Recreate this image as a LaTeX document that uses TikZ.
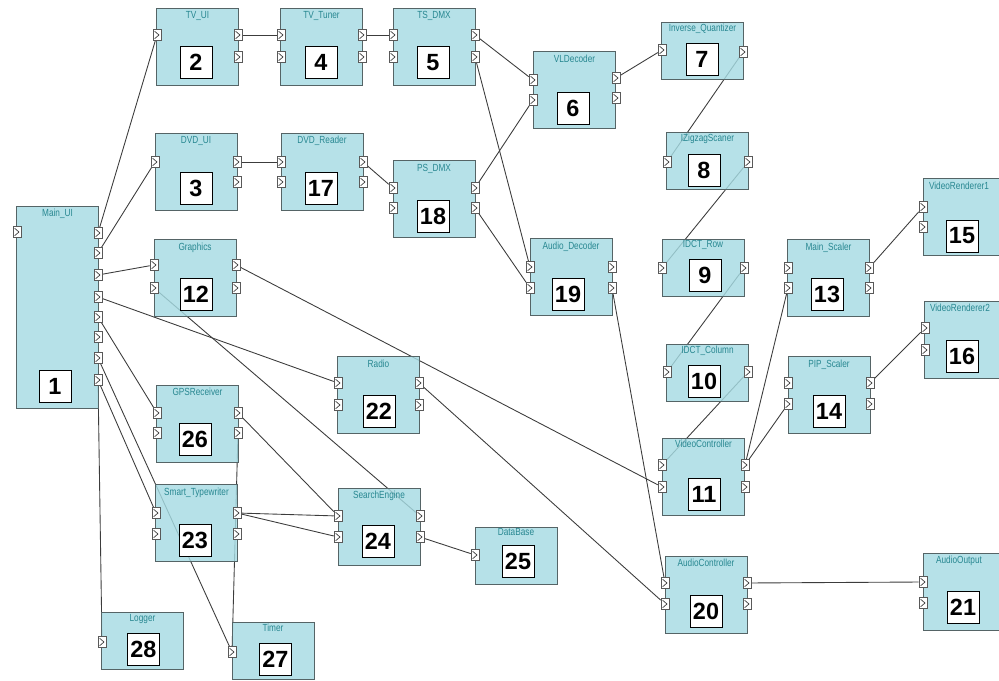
\documentclass[tikz,border=0pt]{standalone}
\usepackage{fontspec}
\setmainfont{Liberation Sans}
\newfontfamily\capfont[FakeStretch=0.8]{Liberation Sans}
\usetikzlibrary{backgrounds}
\definecolor{blockfill}{RGB}{166,219,227}
\definecolor{blockline}{RGB}{85,100,102}
\definecolor{captext}{RGB}{40,135,145}
\definecolor{wiregray}{RGB}{60,60,60}
\tikzstyle{block} = [rectangle, minimum width=24.6mm, draw=blockline, line width=0.75pt, fill=blockfill, fill opacity=0.82]
\tikzstyle{tallblock} = [block, minimum height=23.1mm]
\tikzstyle{shortblock} = [block, minimum height=17.1mm]
\tikzstyle{caption} = [anchor=north, inner sep=3pt, font=\capfont\fontsize{8.8}{9}\selectfont, text=captext]
\tikzstyle{numbox} = [rectangle, draw=black, line width=0.8pt, fill=white, minimum size=9.6mm, inner sep=0pt, font=\bfseries\fontsize{20}{20}\selectfont]
\tikzstyle{port} = [rectangle, draw=black!65, fill=white, line width=0.45pt, minimum width=2.4mm, minimum height=3.2mm, inner sep=0pt, path picture={\draw[black!80, line width=0.55pt] ([xshift=0.5mm,yshift=-0.5mm]path picture bounding box.north west) -- ([xshift=-0.6mm]path picture bounding box.east) -- ([xshift=0.5mm,yshift=0.5mm]path picture bounding box.south west);}]
\tikzstyle{wire} = [draw=wiregray, line width=0.75pt]

\begin{document}
\begin{tikzpicture}[x=0.3mm, y=-0.3mm]
			\useasboundingbox (0,0) rectangle (999,681);

			\node (mainui) [block, minimum height=60.6mm, label={[caption]north:Main\_UI}] at (57.5,307) {};
			\node (mainui-n) [numbox] at (55,386) {1};
			\node (mainui-i1) [port] at (17,232) {};
			\node (mainui-o1) [port] at (98,233) {};
			\node (mainui-o2) [port] at (98,253) {};
			\node (mainui-o3) [port] at (98,275) {};
			\node (mainui-o4) [port] at (98,297) {};
			\node (mainui-o5) [port] at (98,317) {};
			\node (mainui-o6) [port] at (98,337) {};
			\node (mainui-o7) [port] at (98,358) {};
			\node (mainui-o8) [port] at (98,380) {};

			\node (tvui) [tallblock, label={[caption]north:TV\_UI}] at (197.5,46.5) {};
			\node (tvui-n) [numbox] at (196,62.5) {2};
			\node (tvui-i1) [port] at (157,35) {};
			\node (tvui-o1) [port] at (238,35) {};
			\node (tvui-o2) [port] at (238,57) {};

			\node (dvdui) [tallblock, label={[caption]north:DVD\_UI}] at (196,171.5) {};
			\node (dvdui-n) [numbox] at (196,188) {3};
			\node (dvdui-i1) [port] at (155,162) {};
			\node (dvdui-o1) [port] at (237,162) {};
			\node (dvdui-o2) [port] at (237,182) {};

			\node (tvtuner) [tallblock, label={[caption]north:TV\_Tuner}] at (321.5,46.5) {};
			\node (tvtuner-n) [numbox] at (321,62.5) {4};
			\node (tvtuner-i1) [port] at (281,35) {};
			\node (tvtuner-i2) [port] at (281,57) {};
			\node (tvtuner-o1) [port] at (362,35) {};
			\node (tvtuner-o2) [port] at (362,57) {};

			\node (tsdmx) [tallblock, label={[caption]north:TS\_DMX}] at (434,46.5) {};
			\node (tsdmx-n) [numbox] at (433,62.5) {5};
			\node (tsdmx-i1) [port] at (393,35) {};
			\node (tsdmx-i2) [port] at (393,57) {};
			\node (tsdmx-o1) [port] at (475,35) {};
			\node (tsdmx-o2) [port] at (475,57) {};

			\node (vldecoder) [tallblock, label={[caption]north:VLDecoder}] at (574.5,90) {};
			\node (vldecoder-n) [numbox] at (573,108) {6};
			\node (vldecoder-i1) [port] at (533,80) {};
			\node (vldecoder-i2) [port] at (533,100) {};
			\node (vldecoder-o1) [port] at (616,78) {};
			\node (vldecoder-o2) [port] at (616,98) {};

			\node (invquant) [shortblock, label={[caption, inner sep=1.5pt]north:Inverse\_Quantizer}] at (702.5,51) {};
			\node (invquant-n) [numbox] at (702,59) {7};
			\node (invquant-i1) [port] at (662,50) {};
			\node (invquant-o1) [port] at (743,52) {};

			\node (izigzag) [shortblock, label={[caption, inner sep=1.5pt]north:IZigzagScaner}] at (707.5,161) {};
			\node (izigzag-n) [numbox] at (704,170) {8};
			\node (izigzag-i1) [port] at (667,162) {};
			\node (izigzag-o1) [port] at (748,162) {};

			\node (idctrow) [shortblock, label={[caption, inner sep=1.5pt]north:IDCT\_Row}] at (703,267.5) {};
			\node (idctrow-n) [numbox] at (705,275) {9};
			\node (idctrow-i1) [port] at (662,268) {};
			\node (idctrow-o1) [port] at (744,268) {};

			\node (idctcol) [shortblock, label={[caption, inner sep=1.5pt]north:IDCT\_Column}] at (707.5,372.5) {};
			\node (idctcol-n) [numbox] at (704,381) {10};
			\node (idctcol-i1) [port] at (667,372) {};
			\node (idctcol-o1) [port] at (748,372) {};

			\node (videoctrl) [tallblock, label={[caption, inner sep=1.5pt]north:VideoController}] at (703.5,476.5) {};
			\node (videoctrl-n) [numbox] at (704,494) {11};
			\node (videoctrl-i1) [port] at (662,465) {};
			\node (videoctrl-i2) [port] at (662,487) {};
			\node (videoctrl-o1) [port] at (745,465) {};
			\node (videoctrl-o2) [port] at (745,487) {};

			\node (graphics) [tallblock, label={[caption]north:Graphics}] at (195,278) {};
			\node (graphics-n) [numbox] at (196,294) {12};
			\node (graphics-i1) [port] at (154,265) {};
			\node (graphics-i2) [port] at (154,288) {};
			\node (graphics-o1) [port] at (236,265) {};
			\node (graphics-o2) [port] at (236,288) {};

			\node (mainscaler) [tallblock, label={[caption]north:Main\_Scaler}] at (828.5,278) {};
			\node (mainscaler-n) [numbox] at (827,294) {13};
			\node (mainscaler-i1) [port] at (788,268) {};
			\node (mainscaler-i2) [port] at (788,288) {};
			\node (mainscaler-o1) [port] at (869,268) {};
			\node (mainscaler-o2) [port] at (869,288) {};

			\node (pipscaler) [tallblock, label={[caption]north:PIP\_Scaler}] at (829,395) {};
			\node (pipscaler-n) [numbox] at (829,411) {14};
			\node (pipscaler-i1) [port] at (788,383) {};
			\node (pipscaler-i2) [port] at (788,404) {};
			\node (pipscaler-o1) [port] at (870,383) {};
			\node (pipscaler-o2) [port] at (870,404) {};

			\node (vidrend1) [tallblock, label={[caption, xshift=-1.5mm]north:VideoRenderer1}] at (964,217) {};
			\node (vidrend1-n) [numbox] at (962,236) {15};
			\node (vidrend1-i1) [port] at (923,207) {};
			\node (vidrend1-i2) [port] at (923,227) {};

			\node (vidrend2) [tallblock, label={[caption, xshift=-1.5mm]north:VideoRenderer2}] at (965,339.5) {};
			\node (vidrend2-n) [numbox] at (962,356) {16};
			\node (vidrend2-i1) [port] at (925,328) {};
			\node (vidrend2-i2) [port] at (925,350) {};

			\node (dvdreader) [tallblock, label={[caption]north:DVD\_Reader}] at (322,171.5) {};
			\node (dvdreader-n) [numbox] at (321,188) {17};
			\node (dvdreader-i1) [port] at (281,162) {};
			\node (dvdreader-i2) [port] at (281,182) {};
			\node (dvdreader-o1) [port] at (363,162) {};
			\node (dvdreader-o2) [port] at (363,182) {};

			\node (psdmx) [tallblock, label={[caption]north:PS\_DMX}] at (434,199) {};
			\node (psdmx-n) [numbox] at (433,216) {18};
			\node (psdmx-i1) [port] at (393,188) {};
			\node (psdmx-i2) [port] at (393,208) {};
			\node (psdmx-o1) [port] at (475,188) {};
			\node (psdmx-o2) [port] at (475,208) {};

			\node (audiodec) [tallblock, label={[caption]north:Audio\_Decoder}] at (571,277) {};
			\node (audiodec-n) [numbox] at (568,294) {19};
			\node (audiodec-i1) [port] at (530,267) {};
			\node (audiodec-i2) [port] at (530,288) {};
			\node (audiodec-o1) [port] at (612,267) {};
			\node (audiodec-o2) [port] at (612,288) {};

			\node (audioctrl) [tallblock, label={[caption]north:AudioController}] at (706,594.5) {};
			\node (audioctrl-n) [numbox] at (706,611) {20};
			\node (audioctrl-i1) [port] at (665,583) {};
			\node (audioctrl-i2) [port] at (665,604) {};
			\node (audioctrl-o1) [port] at (747,583) {};
			\node (audioctrl-o2) [port] at (747,604) {};

			\node (audioout) [tallblock, label={[caption, xshift=-1.5mm]north:AudioOutput}] at (964,591.5) {};
			\node (audioout-n) [numbox] at (963,607) {21};
			\node (audioout-i1) [port] at (923,582) {};
			\node (audioout-i2) [port] at (923,603) {};

			\node (radio) [tallblock, label={[caption]north:Radio}] at (378.5,395) {};
			\node (radio-n) [numbox] at (379,411) {22};
			\node (radio-i1) [port] at (338,383) {};
			\node (radio-i2) [port] at (338,405) {};
			\node (radio-o1) [port] at (419,383) {};
			\node (radio-o2) [port] at (419,405) {};

			\node (typewriter) [tallblock, label={[caption]north:Smart\_Typewriter}] at (196.5,523) {};
			\node (typewriter-n) [numbox] at (195,540) {23};
			\node (typewriter-i1) [port] at (156,513) {};
			\node (typewriter-i2) [port] at (156,534) {};
			\node (typewriter-o1) [port] at (237,513) {};
			\node (typewriter-o2) [port] at (237,534) {};

			\node (search) [tallblock, label={[caption]north:SearchEngine}] at (379,526.5) {};
			\node (search-n) [numbox] at (378,541) {24};
			\node (search-i1) [port] at (338,516) {};
			\node (search-i2) [port] at (338,537) {};
			\node (search-o1) [port] at (420,516) {};
			\node (search-o2) [port] at (420,537) {};

			\node (database) [shortblock, label={[caption, inner sep=1.5pt]north:DataBase}] at (516,555.5) {};
			\node (database-n) [numbox] at (518,561) {25};
			\node (database-i1) [port] at (475,555) {};

			\node (gps) [tallblock, label={[caption]north:GPSReceiver}] at (197.5,423.5) {};
			\node (gps-n) [numbox] at (195,439.5) {26};
			\node (gps-i1) [port] at (157,413) {};
			\node (gps-i2) [port] at (157,433) {};
			\node (gps-o1) [port] at (238,413) {};
			\node (gps-o2) [port] at (238,433) {};

			\node (timer) [shortblock, label={[caption, inner sep=1.5pt]north:Timer}] at (273,651) {};
			\node (timer-n) [numbox] at (275.5,659.5) {27};
			\node (timer-i1) [port] at (232,652) {};

			\node (logger) [shortblock, label={[caption, inner sep=1.5pt]north:Logger}] at (142.5,641) {};
			\node (logger-n) [numbox] at (143.5,649.5) {28};
			\node (logger-i1) [port] at (102,642) {};

			\begin{pgfonlayer}{background}
			\draw [wire] (mainui-o1) -- (tvui-i1);
			\draw [wire] (mainui-o2) -- (dvdui-i1);
			\draw [wire] (mainui-o3) -- (graphics-i1);
			\draw [wire] (mainui-o4) -- (radio-i1);
			\draw [wire] (mainui-o5) -- (gps-i1);
			\draw [wire] (mainui-o7) -- (timer-i1);
			\draw [wire] (mainui-o8) -- (typewriter-i1);
			\draw [wire] (mainui-o8) -- (logger-i1);
			\draw [wire] (tvui-o1) -- (tvtuner-i1);
			\draw [wire] (tvtuner-o1) -- (tsdmx-i1);
			\draw [wire] (tsdmx-o1) -- (vldecoder-i1);
			\draw [wire] (tsdmx-o2) -- (audiodec-i1);
			\draw [wire] (dvdui-o1) -- (dvdreader-i1);
			\draw [wire] (dvdreader-o1) -- (psdmx-i1);
			\draw [wire] (psdmx-o1) -- (vldecoder-i2);
			\draw [wire] (psdmx-o2) -- (audiodec-i2);
			\draw [wire] (vldecoder-o1) -- (invquant-i1);
			\draw [wire] (invquant-o1) -- (izigzag-i1);
			\draw [wire] (izigzag-o1) -- (idctrow-i1);
			\draw [wire] (idctrow-o1) -- (idctcol-i1);
			\draw [wire] (idctcol-o1) -- (videoctrl-i1);
			\draw [wire] (videoctrl-o1) -- (mainscaler-i2);
			\draw [wire] (videoctrl-o1) -- (pipscaler-i2);
			\draw [wire] (mainscaler-o1) -- (vidrend1-i1);
			\draw [wire] (pipscaler-o1) -- (vidrend2-i1);
			\draw [wire] (graphics-o1) -- (videoctrl-i2);
			\draw [wire] (graphics-i2) -- (search-o1);
			\draw [wire] (audiodec-o2) -- (audioctrl-i1);
			\draw [wire] (radio-o1) -- (audioctrl-i2);
			\draw [wire] (audioctrl-o1) -- (audioout-i1);
			\draw [wire] (gps-o1) -- (search-i1);
			\draw [wire] (gps-o2) -- (timer-i1);
			\draw [wire] (typewriter-o1) -- (search-i1);
			\draw [wire] (typewriter-o1) -- (search-i2);
			\draw [wire] (search-o2) -- (database-i1);
			\end{pgfonlayer}
		\end{tikzpicture}
\end{document}
